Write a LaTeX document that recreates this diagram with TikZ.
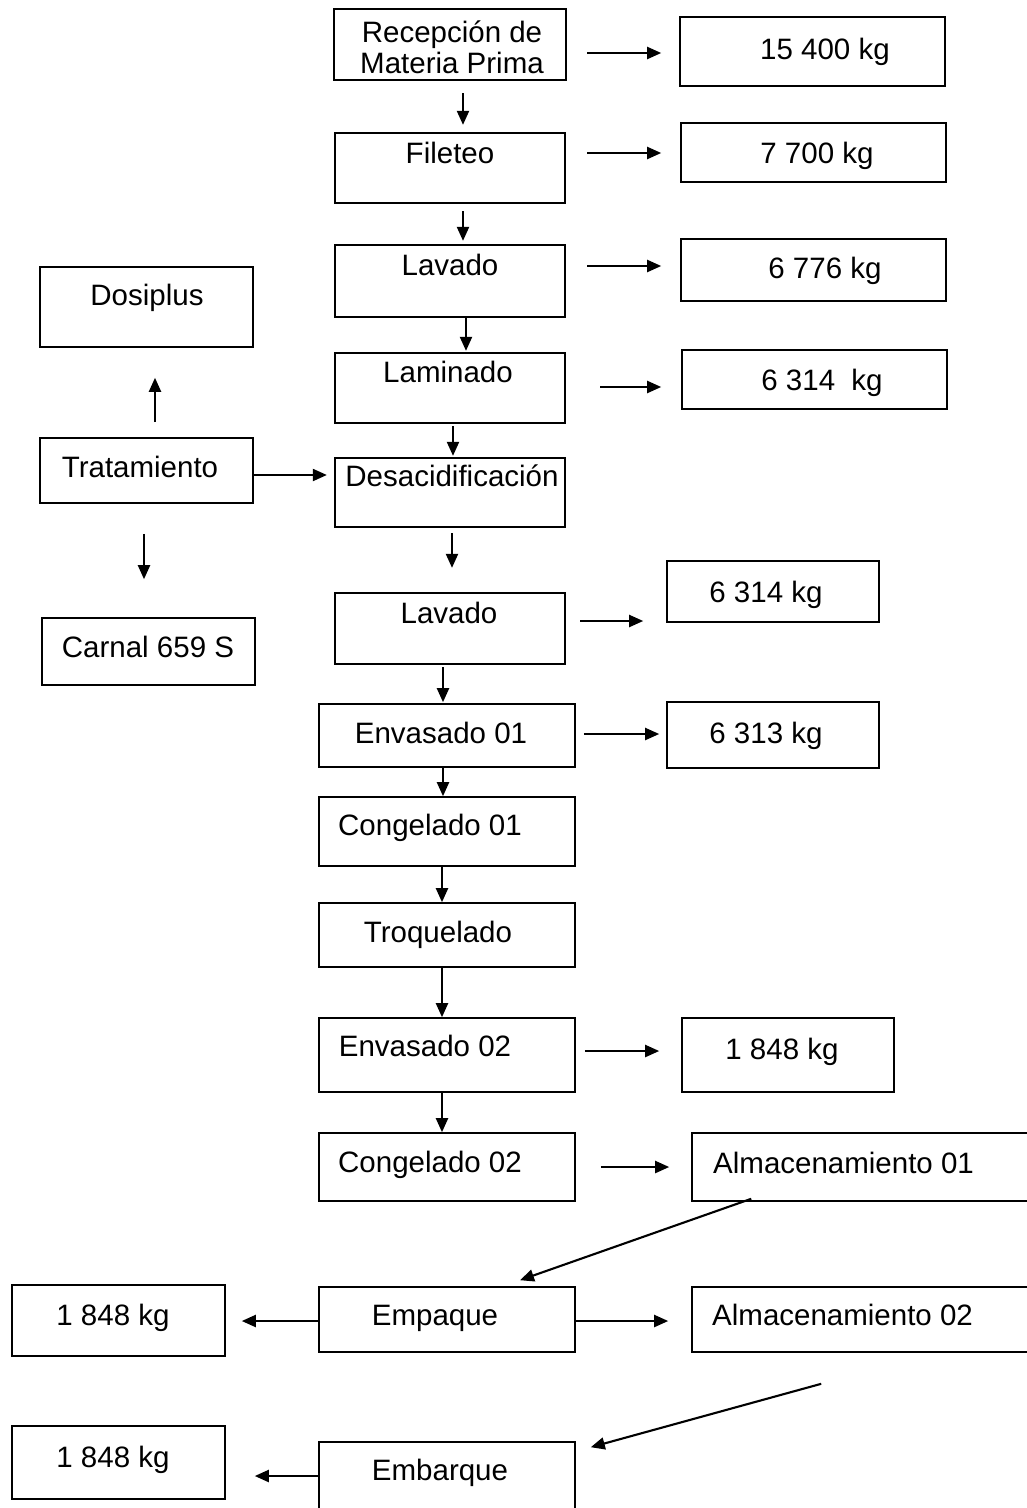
\documentclass[tikz,border=0pt]{standalone}
\usepackage{fontspec}
\setmainfont{Liberation Sans}
\usetikzlibrary{arrows.meta,calc}
\begin{document}
\begin{tikzpicture}[x=1pt,y=-1pt,
  box/.style={draw, rectangle, inner sep=0pt, line width=1.6pt},
  mainbox/.style={box, line width=2.3pt},
  txt/.style={inner sep=0pt, anchor=base, font=\fontsize{29.5}{31}\selectfont},
  arr/.style={line width=2.1pt, -{Triangle[length=14pt,width=12pt]}}]
\useasboundingbox (0,0) rectangle (1027,1508);
\clip (0,0) rectangle (1027,1508);
\fill[white] (0,0) rectangle (1027,1508);

% main column
\node[mainbox, minimum width=232pt, minimum height=71pt] (rec) at (450,44.5) {};
\node[mainbox, minimum width=230pt, minimum height=70pt] (fil) at (450,168) {};
\node[mainbox, minimum width=230pt, minimum height=72pt] (lav1) at (450,281) {};
\node[mainbox, minimum width=230pt, minimum height=70pt] (lam) at (450,388) {};
\node[mainbox, minimum width=230pt, minimum height=69pt] (des) at (450,492.5) {};
\node[mainbox, minimum width=230pt, minimum height=71pt] (lav2) at (450,628.5) {};
\node[box, minimum width=256pt, minimum height=63pt] (env1) at (447,735.5) {};
\node[box, minimum width=256pt, minimum height=69pt] (con1) at (447,831.5) {};
\node[box, minimum width=256pt, minimum height=64pt] (tro) at (447,935) {};
\node[box, minimum width=256pt, minimum height=74pt] (env2) at (447,1055) {};
\node[box, minimum width=256pt, minimum height=68pt] (con2) at (447,1167) {};
\node[box, minimum width=256pt, minimum height=65pt] (emp) at (447,1319.5) {};
\node[box, minimum width=256pt, minimum height=90pt] (emb) at (447,1487) {};

\node[txt] (rec-t) at (452,42.5) {\begin{tabular}[t]{@{}c@{}}Recepción de\\Materia Prima\end{tabular}};
\node[txt] (fil-t) at (450,163.5) {Fileteo};
\node[txt] (lav1-t) at (450,275.5) {Lavado};
\node[txt] (lam-t) at (448,382.5) {Laminado};
\node[txt] (des-t) at (452,486.5) {Desacidificación};
\node[txt] (lav2-t) at (449,623.5) {Lavado};
\node[txt] (env1-t) at (441,743.5) {Envasado 01};
\node[txt] (con1-t) at (430,835.5) {Congelado 01};
\node[txt] (tro-t) at (438,942.5) {Troquelado};
\node[txt] (env2-t) at (425,1056.5) {Envasado 02};
\node[txt] (con2-t) at (430,1172.5) {Congelado 02};
\node[txt] (emp-t) at (435,1325.5) {Empaque};
\node[txt] (emb-t) at (440,1480.5) {Embarque};

% right column
\node[box, minimum width=265pt, minimum height=69pt] (k1) at (812.5,51.5) {};
\node[box, minimum width=265pt, minimum height=59pt] (k2) at (813.5,152.5) {};
\node[box, minimum width=265pt, minimum height=62pt] (k3) at (813.5,270) {};
\node[box, minimum width=265pt, minimum height=59pt] (k4) at (814.5,379.5) {};
\node[box, minimum width=212pt, minimum height=61pt] (k5) at (773,591.5) {};
\node[box, minimum width=212pt, minimum height=66pt] (k6) at (773,735) {};
\node[box, minimum width=212pt, minimum height=74pt] (k7) at (788,1055) {};
\node[box, minimum width=360pt, minimum height=68pt] (alm1) at (872,1167) {};
\node[box, minimum width=360pt, minimum height=65pt] (alm2) at (872,1319.5) {};

\node[txt] (k1-t) at (825,59) {15 400 kg};
\node[txt] (k2-t) at (817,163.5) {7 700 kg};
\node[txt] (k3-t) at (825,278.5) {6 776 kg};
\node[txt] (k4-t) at (822,390.5) {6 314\hspace{8pt} kg};
\node[txt] (k5-t) at (766,602.5) {6 314 kg};
\node[txt] (k6-t) at (766,743.5) {6 313 kg};
\node[txt] (k7-t) at (782,1059.5) {1 848 kg};
\node[txt, anchor=base west] (alm1-t) at (713,1173.5) {Almacenamiento 01};
\node[txt, anchor=base west] (alm2-t) at (712,1325.5) {Almacenamiento 02};

% left column
\node[box, minimum width=213pt, minimum height=80pt] (dos) at (146.5,307) {};
\node[box, minimum width=213pt, minimum height=65pt] (tra) at (146.5,470.5) {};
\node[box, minimum width=213pt, minimum height=67pt] (car) at (148.5,651.5) {};
\node[box, minimum width=213pt, minimum height=71pt] (l1) at (118.5,1320.5) {};
\node[box, minimum width=213pt, minimum height=73pt] (l2) at (118.5,1462.5) {};

\node[txt] (dos-t) at (147,305.5) {Dosiplus};
\node[txt] (tra-t) at (140,477.5) {Tratamiento};
\node[txt] (car-t) at (148,657.5) {Carnal 659 S};
\node[txt] (l1-t) at (113,1325.5) {1 848 kg};
\node[txt] (l2-t) at (113,1467.5) {1 848 kg};

% vertical arrows
\draw[arr, shorten <=12pt, shorten >=7pt] (rec.south -| 463,0) -- (fil.north -| 463,0);
\draw[arr, shorten <=7pt, shorten >=3pt] (fil.south -| 463,0) -- (lav1.north -| 463,0);
\draw[arr, shorten <=0pt, shorten >=1pt] (lav1.south -| 466,0) -- (lam.north -| 466,0);
\draw[arr, shorten <=2pt, shorten >=1pt] (lam.south -| 453,0) -- (des.north -| 453,0);
\draw[arr, shorten <=5pt, shorten >=24pt] (des.south -| 452,0) -- (lav2.north -| 452,0);
\draw[arr, shorten <=2pt, shorten >=1pt] (lav2.south -| 443,0) -- (env1.north -| 443,0);
\draw[arr] (env1.south -| 443,0) -- (con1.north -| 443,0);
\draw[arr] (con1.south -| 442,0) -- (tro.north -| 442,0);
\draw[arr] (tro.south -| 442,0) -- (env2.north -| 442,0);
\draw[arr] (env2.south -| 442,0) -- (con2.north -| 442,0);

% horizontal arrows
\draw[arr, shorten <=20pt, shorten >=18pt] (rec.east |- 0,53) -- (k1.west |- 0,53);
\draw[arr, shorten <=21pt, shorten >=19pt] (fil.east |- 0,153) -- (k2.west |- 0,153);
\draw[arr, shorten <=21pt, shorten >=19pt] (lav1.east |- 0,266) -- (k3.west |- 0,266);
\draw[arr, shorten <=34pt, shorten >=20pt] (lam.east |- 0,387) -- (k4.west |- 0,387);
\draw[arr, shorten <=14pt, shorten >=23pt] (lav2.east |- 0,621) -- (k5.west |- 0,621);
\draw[arr, shorten <=8pt, shorten >=7pt] (env1.east |- 0,734) -- (k6.west |- 0,734);
\draw[arr, shorten <=9pt, shorten >=22pt] (env2.east |- 0,1051) -- (k7.west |- 0,1051);
\draw[arr, shorten <=25pt, shorten >=22pt] (con2.east |- 0,1167) -- (alm1.west |- 0,1167);
\draw[arr, shorten >=23pt] (emp.east |- 0,1321) -- (alm2.west |- 0,1321);
\draw[arr, shorten >=16pt] (emp.west |- 0,1321) -- (l1.east |- 0,1321);
\draw[arr, shorten >=29pt] (emb.west |- 0,1476) -- (l2.east |- 0,1476);
\draw[arr, shorten >=7pt] (tra.east |- 0,475) -- (des.west |- 0,475);
\draw[arr, shorten <=15pt, shorten >=30pt] (tra.north -| 155,0) -- (dos.south -| 155,0);
\draw[arr, shorten <=30pt, shorten >=38pt] (tra.south -| 144,0) -- (car.north -| 144,0);

% diagonal arrows
\draw[arr] ($(alm1.south west)+(60,-3)$) -- ($(emp.north)+(73,-6)$);
\draw[arr] ($(alm2.south west)+(130,31)$) -- ($(emb.north east)+(15,6)$);
\end{tikzpicture}
\end{document}
